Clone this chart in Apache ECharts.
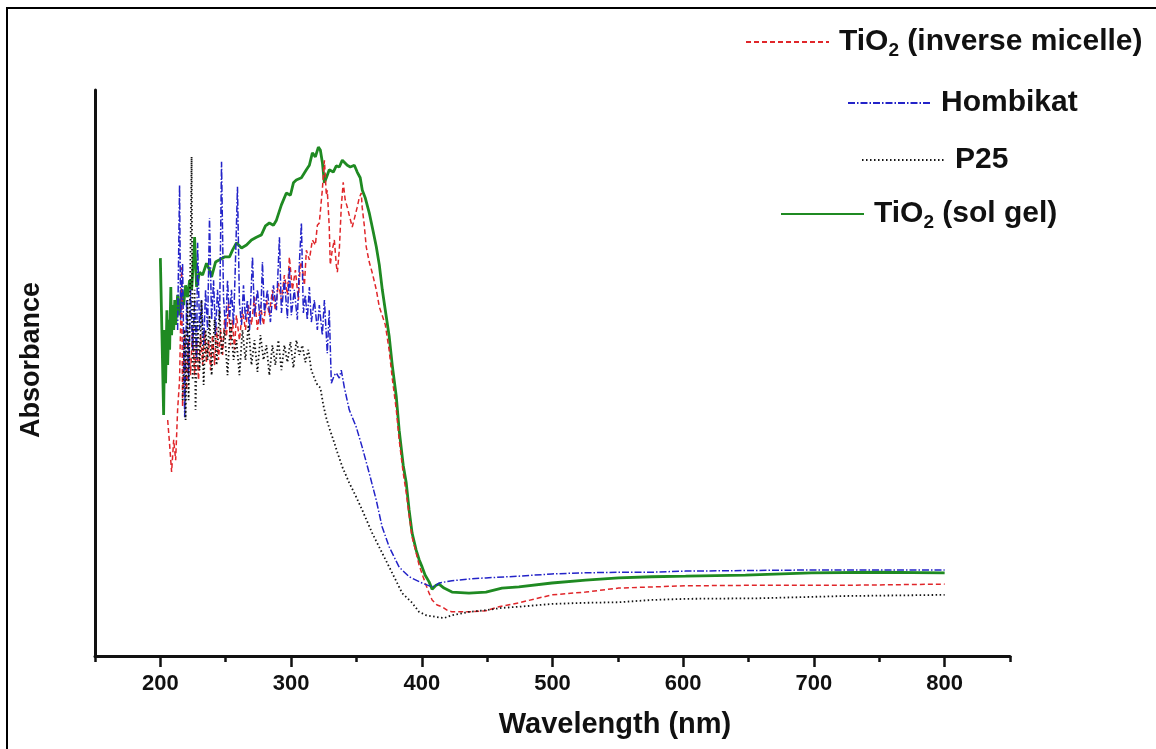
<!DOCTYPE html>
<html>
<head>
<meta charset="utf-8">
<script src="https://cdn.jsdelivr.net/npm/echarts@6/dist/echarts.min.js"></script>
<style>
html,body{margin:0;padding:0;background:#fff;overflow:hidden;}
#chart{width:1156px;height:749px;}
#frame{position:absolute;left:6px;top:7px;width:1200px;height:800px;border:2px solid #000;pointer-events:none;}
</style>
</head>
<body>
<div id="chart"></div>
<div id="frame"></div>
<script>
// ---- data (wavelength nm, absorbance a.u.) ----
const majorTicks = [200, 300, 400, 500, 600, 700, 800];
const minorTicks = [150, 250, 350, 450, 550, 650, 750, 850];
const seriesNames = ['TiO2 (inverse micelle)', 'Hombikat', 'P25', 'TiO2 (sol gel)'];

const inverseMicelle = [
[205.6,0.417],[207.1,0.373],[208.6,0.325],[210.2,0.382],[211.7,0.346],[213.2,0.435],[214.7,0.488],[216.3,0.687],
[217.0,0.440],[218.6,0.576],[220.1,0.470],[221.6,0.558],[223.1,0.496],[224.7,0.581],[226.2,0.496],[227.7,0.558],
[229.2,0.488],[230.8,0.567],[232.3,0.514],[233.8,0.576],[235.3,0.518],[236.9,0.558],[238.4,0.505],[239.9,0.567],
[241.5,0.514],[243.0,0.581],[244.5,0.523],[246.0,0.576],[247.6,0.532],[249.1,0.594],[250.6,0.564],[252.1,0.624],
[253.7,0.549],[255.2,0.594],[256.7,0.541],[258.2,0.602],[260.5,0.558],[262.8,0.611],[265.1,0.576],[267.4,0.620],
[269.7,0.585],[272.0,0.634],[274.3,0.576],[276.6,0.620],[278.9,0.585],[281.2,0.629],[283.4,0.602],[285.7,0.647],
[288.0,0.611],[290.3,0.659],[292.6,0.629],[294.9,0.673],[297.2,0.638],[298.7,0.705],[301.0,0.647],[303.3,0.682],
[305.6,0.629],[307.1,0.696],[308.6,0.687],[310.2,0.655],[311.7,0.717],[314.0,0.700],[316.3,0.735],[318.6,0.726],
[320.1,0.761],[321.6,0.765],[323.2,0.806],[323.9,0.823],[325.5,0.876],[327.0,0.814],[327.7,0.823],[329.2,0.758],
[330.0,0.691],[331.5,0.717],[333.1,0.735],[334.6,0.691],[335.4,0.678],[336.9,0.717],[338.4,0.793],[339.9,0.837],
[341.4,0.806],[343.0,0.793],[344.5,0.779],[346.8,0.758],[349.1,0.779],[350.6,0.793],[352.1,0.809],[353.7,0.818],
[354.4,0.793],[356.0,0.761],[357.5,0.723],[359.8,0.696],[362.1,0.677],[365.2,0.647],[367.5,0.617],[369.7,0.602],
[372.1,0.585],[375.0,0.541],[377.4,0.491],[380.5,0.435],[382.7,0.382],[385.7,0.325],[388.0,0.290],[390.3,0.249],
[392.6,0.210],[395.7,0.182],[397.9,0.161],[401.0,0.140],[403.3,0.125],[405.6,0.111],[407.9,0.099],[411.7,0.090],
[415.5,0.087],[419.3,0.081],[423.1,0.078],[436.1,0.078],[449.1,0.080],[459.0,0.087],[474.3,0.094],[499.5,0.108],
[525.4,0.113],[550.6,0.120],[575.8,0.122],[601.8,0.124],[657.5,0.125],[726.2,0.125],[800.0,0.127]
];

const hombikat = [
[213.2,0.576],[214.7,0.832],[215.5,0.594],[217.0,0.694],[218.6,0.422],[220.1,0.629],[221.6,0.488],[223.1,0.647],
[224.7,0.541],[226.2,0.629],[227.7,0.523],[228.5,0.730],[230.0,0.576],[231.5,0.629],[233.1,0.549],[234.6,0.647],
[236.1,0.576],[237.6,0.774],[239.2,0.594],[240.7,0.664],[242.2,0.567],[243.7,0.647],[245.3,0.594],[246.8,0.873],
[248.3,0.634],[249.9,0.576],[251.4,0.664],[252.9,0.594],[254.4,0.647],[256.0,0.585],[257.5,0.700],[259.0,0.829],
[260.5,0.624],[262.1,0.585],[263.6,0.655],[265.1,0.594],[266.6,0.629],[268.2,0.576],[270.5,0.705],[272.0,0.599],
[274.3,0.647],[276.6,0.585],[278.1,0.696],[279.6,0.606],[281.9,0.647],[284.2,0.590],[286.5,0.655],[288.8,0.611],
[291.1,0.740],[292.6,0.606],[294.9,0.664],[297.2,0.597],[298.7,0.687],[300.2,0.602],[302.5,0.647],[304.8,0.594],
[306.3,0.691],[307.9,0.765],[309.4,0.606],[310.9,0.638],[312.4,0.594],[314.0,0.652],[315.5,0.590],[317.8,0.629],
[320.1,0.576],[321.6,0.620],[323.9,0.567],[325.5,0.629],[327.7,0.535],[329.2,0.611],[330.8,0.482],[333.1,0.496],
[334.6,0.500],[336.9,0.491],[338.4,0.505],[340.7,0.475],[344.5,0.435],[349.8,0.405],[354.4,0.369],[359.8,0.323],
[365.1,0.276],[369.7,0.228],[375.0,0.193],[382.7,0.157],[390.3,0.140],[400.2,0.129],[407.9,0.122],[410.9,0.125],
[413.2,0.129],[423.1,0.133],[436.1,0.136],[449.1,0.138],[474.3,0.141],[499.5,0.145],[525.4,0.147],[550.6,0.148],
[575.8,0.148],[601.8,0.150],[697.9,0.152],[800.0,0.152]
];

const p25 = [
[217.0,0.452],[218.6,0.576],[219.3,0.417],[220.8,0.629],[221.6,0.452],[223.1,0.717],[223.9,0.882],[224.7,0.488],
[226.2,0.647],[226.9,0.435],[228.5,0.594],[230.0,0.505],[231.5,0.629],[233.1,0.479],[234.6,0.576],[236.1,0.523],
[237.6,0.602],[239.2,0.496],[241.5,0.594],[243.0,0.514],[245.3,0.611],[246.8,0.532],[249.1,0.576],[251.4,0.496],
[253.7,0.594],[256.0,0.523],[258.2,0.558],[260.5,0.496],[262.8,0.576],[265.1,0.523],[267.4,0.585],[269.7,0.514],
[272.0,0.558],[274.3,0.502],[276.6,0.567],[278.9,0.523],[281.2,0.549],[283.4,0.496],[285.7,0.549],[288.0,0.514],
[290.3,0.558],[292.6,0.505],[294.9,0.549],[297.2,0.519],[299.5,0.555],[301.8,0.509],[304.1,0.558],[306.3,0.532],
[308.6,0.549],[310.9,0.519],[313.2,0.541],[315.5,0.505],[317.8,0.491],[320.1,0.479],[322.4,0.474],[324.7,0.443],
[327.0,0.420],[329.2,0.403],[332.3,0.382],[335.4,0.360],[339.2,0.334],[344.5,0.306],[349.8,0.281],[354.4,0.258],
[362.1,0.217],[369.7,0.182],[377.3,0.147],[385.0,0.111],[392.6,0.094],[397.9,0.078],[403.3,0.072],[410.9,0.069],
[417.0,0.067],[423.1,0.072],[436.1,0.078],[449.1,0.081],[461.3,0.085],[474.3,0.087],[499.5,0.092],[525.4,0.094],
[550.6,0.095],[575.8,0.099],[601.8,0.101],[657.5,0.102],[723.9,0.106],[800.0,0.108]
];

const solGel = [
[200.0,0.703],[202.5,0.426],[203.3,0.576],[204.0,0.482],[205.0,0.611],[205.6,0.514],[206.5,0.594],[207.1,0.541],
[208.0,0.652],[208.6,0.567],[209.4,0.620],[210.2,0.576],[211.0,0.629],[211.7,0.585],[213.2,0.638],[214.7,0.602],
[216.3,0.647],[217.8,0.620],[219.3,0.655],[220.8,0.634],[222.4,0.664],[223.9,0.647],[225.4,0.700],[226.2,0.740],
[227.7,0.652],[230.0,0.678],[232.3,0.673],[235.3,0.694],[237.6,0.682],[239.2,0.670],[242.2,0.696],[245.3,0.700],
[249.1,0.705],[252.9,0.705],[255.2,0.717],[258.2,0.730],[262.1,0.721],[265.9,0.726],[269.7,0.735],[273.5,0.740],
[277.3,0.744],[280.4,0.760],[283.4,0.765],[286.5,0.761],[288.8,0.770],[292.6,0.797],[296.4,0.818],[299.5,0.814],
[301.8,0.836],[304.0,0.841],[307.9,0.845],[311.7,0.859],[314.0,0.867],[316.3,0.889],[318.6,0.882],[320.9,0.899],
[322.4,0.894],[324.0,0.871],[325.5,0.836],[327.0,0.845],[329.2,0.859],[332.3,0.855],[334.6,0.866],[336.9,0.864],
[339.2,0.876],[340.7,0.873],[343.0,0.867],[345.3,0.864],[348.4,0.867],[350.6,0.855],[352.9,0.845],[354.5,0.823],
[356.8,0.809],[359.8,0.783],[362.9,0.749],[365.2,0.723],[367.5,0.691],[369.8,0.647],[372.1,0.611],[375.1,0.564],
[377.4,0.514],[380.5,0.458],[382.7,0.399],[385.8,0.337],[388.1,0.306],[390.3,0.258],[392.6,0.217],[395.7,0.187],
[398.0,0.170],[400.3,0.157],[402.5,0.143],[405.6,0.131],[407.9,0.118],[409.4,0.115],[410.9,0.125],[413.2,0.127],
[417.0,0.120],[423.1,0.113],[436.1,0.111],[449.1,0.113],[461.3,0.120],[474.3,0.122],[499.5,0.129],[525.4,0.134],
[550.6,0.138],[575.8,0.140],[601.8,0.141],[647.6,0.143],[698.0,0.147],[749.1,0.148],[800.0,0.147]
];

// ---- chart ----
const FONT = '"Liberation Sans", Arial, sans-serif';
const colors = { micelle: '#e0262a', hombikat: '#2323c8', p25: '#141414', solgel: '#1f8a22' };

const richText = {
  m: { fontFamily: FONT, fontWeight: 'bold', fontSize: 30, color: '#111', lineHeight: 36 },
  s: { fontFamily: FONT, fontWeight: 'bold', fontSize: 19, color: '#111', lineHeight: 10, verticalAlign: 'bottom' }
};
function legendLabel(name) {
  if (name.indexOf('TiO2') === 0) return '{m|TiO}{s|2}{m|' + name.slice(4) + '}';
  return '{m|' + name + '}';
}
function makeLegend(name, left, top) {
  return {
    data: [name], left: left, top: top, orient: 'horizontal', padding: 0,
    itemWidth: 83, itemHeight: 14, selectedMode: false,
    itemStyle: { opacity: 0, color: 'rgba(0,0,0,0)', borderWidth: 0 },
    formatter: legendLabel,
    textStyle: { rich: richText, padding: [0, 0, 0, 5] }
  };
}

const chart = echarts.init(document.getElementById('chart'), null, { renderer: 'canvas' });
chart.setOption({
  animation: false,
  backgroundColor: '#fff',
  title: {
    text: 'Wavelength (nm)', left: 615, top: 710, textAlign: 'center', padding: 0,
    textStyle: { fontFamily: FONT, fontWeight: 'bold', fontSize: 29, color: '#111' }
  },
  legend: [
    makeLegend(seriesNames[0], 745, 27),
    makeLegend(seriesNames[1], 847, 88),
    makeLegend(seriesNames[2], 861, 145),
    makeLegend(seriesNames[3], 780, 199)
  ],
  grid: { left: 95, right: 146, top: 90, bottom: 93, containLabel: false },
  xAxis: [
    {
      type: 'value', min: 150, max: 850, position: 'bottom',
      axisLine: { show: true, onZero: false, lineStyle: { color: '#111', width: 3 } },
      axisTick: { show: true, customValues: majorTicks, length: 11, lineStyle: { color: '#111', width: 2.5 } },
      axisLabel: { show: true, customValues: majorTicks, margin: 17, fontFamily: FONT, fontWeight: 'bold', fontSize: 22, color: '#111' },
      splitLine: { show: false }
    },
    {
      type: 'value', min: 150, max: 850, position: 'bottom', gridIndex: 0,
      axisLine: { show: false, onZero: false },
      axisTick: { show: true, customValues: minorTicks, length: 6, lineStyle: { color: '#111', width: 2.5 } },
      axisLabel: { show: false },
      splitLine: { show: false }
    }
  ],
  yAxis: {
    type: 'value', min: 0, max: 1,
    name: 'Absorbance', nameLocation: 'middle', nameRotate: 90, nameGap: 50,
    nameTextStyle: { fontFamily: FONT, fontWeight: 'bold', fontSize: 27, color: '#111', padding: [0, 0, 0, 26] },
    axisLine: { show: true, onZero: false, lineStyle: { color: '#111', width: 3 } },
    axisTick: { show: false }, axisLabel: { show: false }, splitLine: { show: false }
  },
  series: [
    { name: seriesNames[3], type: 'line', data: solGel, symbol: 'none', showSymbol: false,
      lineStyle: { color: colors.solgel, width: 2.8 }, itemStyle: { color: colors.solgel }, z: 2 },
    { name: seriesNames[0], type: 'line', data: inverseMicelle, symbol: 'none', showSymbol: false,
      lineStyle: { color: colors.micelle, width: 1.5, type: [5, 3] }, itemStyle: { color: colors.micelle }, z: 3 },
    { name: seriesNames[1], type: 'line', data: hombikat, symbol: 'none', showSymbol: false,
      lineStyle: { color: colors.hombikat, width: 1.5, type: [7, 2, 1.5, 2] }, itemStyle: { color: colors.hombikat }, z: 4 },
    { name: seriesNames[2], type: 'line', data: p25, symbol: 'none', showSymbol: false,
      lineStyle: { color: colors.p25, width: 1.8, type: [1.5, 2.5] }, itemStyle: { color: colors.p25 }, z: 5 }
  ]
});
</script>
</body>
</html>
